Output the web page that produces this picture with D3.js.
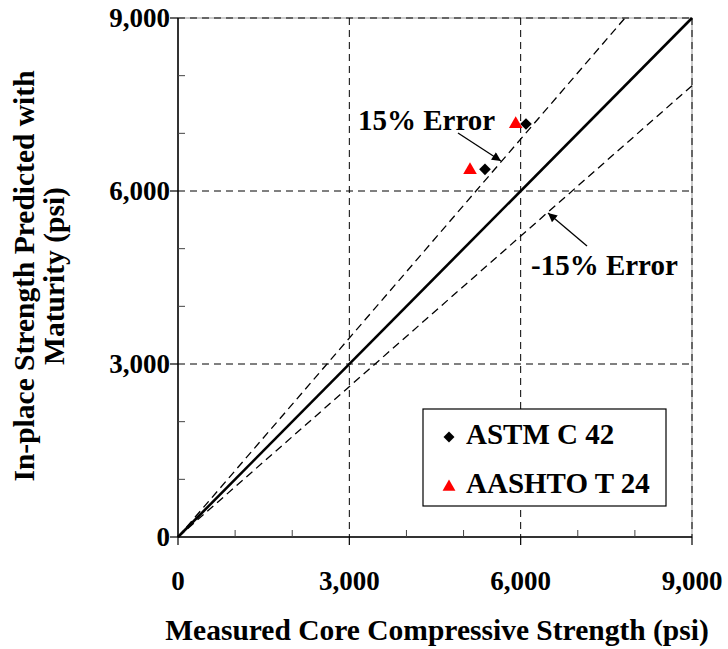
<!DOCTYPE html>
<html><head><meta charset="utf-8">
<script src="https://cdn.jsdelivr.net/npm/d3@7"></script>
<style>body{margin:0;background:#fff} text{font-family:"Liberation Serif";font-weight:bold;fill:#000}</style>
</head><body>
<svg id="c" width="728" height="649"></svg>
<script>
const majorTicks = [0, 3000, 6000, 9000];
const minorTicks = [1000, 2000, 4000, 5000, 7000, 8000];
const astm = [{x: 5375, y: 6376}, {x: 6093, y: 7162}];
const aashto = [{x: 5113, y: 6364}, {x: 5913, y: 7162}];
const errorFactors = [1.15, 1 / 1.15];
const legendNames = ["ASTM C 42", "AASHTO T 24"];

const svg = d3.select("#c");
const L = 178, R = 692, T = 18, B = 537;
const x = d3.scaleLinear().domain([0, 9000]).range([L, R]);
const y = d3.scaleLinear().domain([0, 9000]).range([B, T]);
const fmt = d3.format(",");

// light frame
svg.append("rect").attr("x", L).attr("y", T).attr("width", R - L).attr("height", B - T)
  .attr("fill", "none").attr("stroke", "#999").attr("stroke-width", 1);

// grid
const g = svg.append("g");
majorTicks.filter(d => d > 0).forEach(d => {
  g.append("line").attr("x1", x(d)).attr("x2", x(d)).attr("y1", T).attr("y2", B)
    .attr("stroke", "#000").attr("stroke-width", 1).attr("stroke-dasharray", "7,5");
  g.append("line").attr("x1", L).attr("x2", R).attr("y1", y(d)).attr("y2", y(d))
    .attr("stroke", "#000").attr("stroke-width", 1).attr("stroke-dasharray", "7,5");
});

// error lines
const line = d3.line().x(d => x(d[0])).y(d => y(d[1]));
errorFactors.forEach(f => {
  const xe = Math.min(9000, 9000 / f);
  svg.append("path").attr("d", line([[0, 0], [xe, xe * f]]))
    .attr("fill", "none").attr("stroke", "#000").attr("stroke-width", 1.3).attr("stroke-dasharray", "8,5");
});
svg.append("path").attr("d", line([[0, 0], [9000, 9000]]))
  .attr("fill", "none").attr("stroke", "#000").attr("stroke-width", 2.6);

// axes
svg.append("line").attr("x1", L).attr("x2", L).attr("y1", T).attr("y2", B).attr("stroke", "#000").attr("stroke-width", 1.5);
svg.append("line").attr("x1", L).attr("x2", R).attr("y1", B).attr("y2", B).attr("stroke", "#000").attr("stroke-width", 1.5);
minorTicks.forEach(d => {
  svg.append("line").attr("x1", x(d)).attr("x2", x(d)).attr("y1", B).attr("y2", B - 7).attr("stroke", "#444").attr("stroke-width", 1);
  svg.append("line").attr("x1", L).attr("x2", L + 7).attr("y1", y(d)).attr("y2", y(d)).attr("stroke", "#444").attr("stroke-width", 1);
});
majorTicks.forEach(d => {
  svg.append("line").attr("x1", x(d)).attr("x2", x(d)).attr("y1", B).attr("y2", B + 8).attr("stroke", "#000").attr("stroke-width", 1.2);
  svg.append("line").attr("x1", L - 8).attr("x2", L).attr("y1", y(d)).attr("y2", y(d)).attr("stroke", "#000").attr("stroke-width", 1.2);
  svg.append("text").attr("x", x(d)).attr("y", 590).attr("text-anchor", "middle")
    .attr("font-size", 27).text(fmt(d));
  svg.append("text").attr("x", 170).attr("y", y(d) + 9).attr("text-anchor", "end")
    .attr("font-size", 27).text(fmt(d));
});

// axis titles
svg.append("text").attr("x", 437).attr("y", 640).attr("text-anchor", "middle")
  .attr("font-size", 29.5).text("Measured Core Compressive Strength (psi)");
const yt = svg.append("text").attr("transform", "translate(0,276) rotate(-90)")
  .attr("text-anchor", "middle").attr("font-size", 29.5);
yt.append("tspan").attr("x", 0).attr("y", 34).text("In-place Strength Predicted with");
yt.append("tspan").attr("x", 0).attr("y", 64).text("Maturity (psi)");

// markers
const diamond = d3.symbol(d3.symbolSquare, 68)();
const tri = d3.symbol(d3.symbolTriangle, 80)();
const sym = svg.append("g");
astm.forEach(d => {
  sym.append("path").attr("d", diamond)
    .attr("transform", `translate(${x(d.x)},${y(d.y)}) rotate(45)`).attr("fill", "#000");
});
aashto.forEach(d => {
  sym.append("path").attr("d", tri)
    .attr("transform", `translate(${x(d.x)},${y(d.y)})`).attr("fill", "#ff0000");
});

// annotations
const defs = svg.append("defs");
defs.append("marker").attr("id", "ah").attr("viewBox", "0 0 10 10").attr("refX", 10).attr("refY", 5)
  .attr("markerWidth", 10).attr("markerHeight", 9).attr("markerUnits", "userSpaceOnUse").attr("orient", "auto")
  .append("path").attr("d", "M0,0 L10,5 L0,10 Z").attr("fill", "#000");
svg.append("line").attr("x1", 458).attr("y1", 133).attr("x2", 501).attr("y2", 161)
  .attr("stroke", "#000").attr("stroke-width", 1.3).attr("marker-end", "url(#ah)");
svg.append("line").attr("x1", 587).attr("y1", 246).attr("x2", 548).attr("y2", 213)
  .attr("stroke", "#000").attr("stroke-width", 1.3).attr("marker-end", "url(#ah)");
svg.append("text").attr("x", 358).attr("y", 130).attr("font-size", 29).text("15% Error");
svg.append("text").attr("x", 531).attr("y", 275).attr("font-size", 29).text("-15% Error");

// legend
svg.append("rect").attr("x", 423).attr("y", 409).attr("width", 243).attr("height", 97)
  .attr("fill", "#fff").attr("stroke", "#000").attr("stroke-width", 1.2);
svg.append("path").attr("d", d3.symbol(d3.symbolSquare, 60)()).attr("transform", "translate(449,437) rotate(45)").attr("fill", "#000");
svg.append("path").attr("d", d3.symbol(d3.symbolTriangle, 72)()).attr("transform", "translate(449,487)").attr("fill", "#ff0000");
svg.append("text").attr("x", 466).attr("y", 444).attr("font-size", 29).text(legendNames[0]);
svg.append("text").attr("x", 466).attr("y", 493).attr("font-size", 29).text(legendNames[1]);
</script>
</body></html>
